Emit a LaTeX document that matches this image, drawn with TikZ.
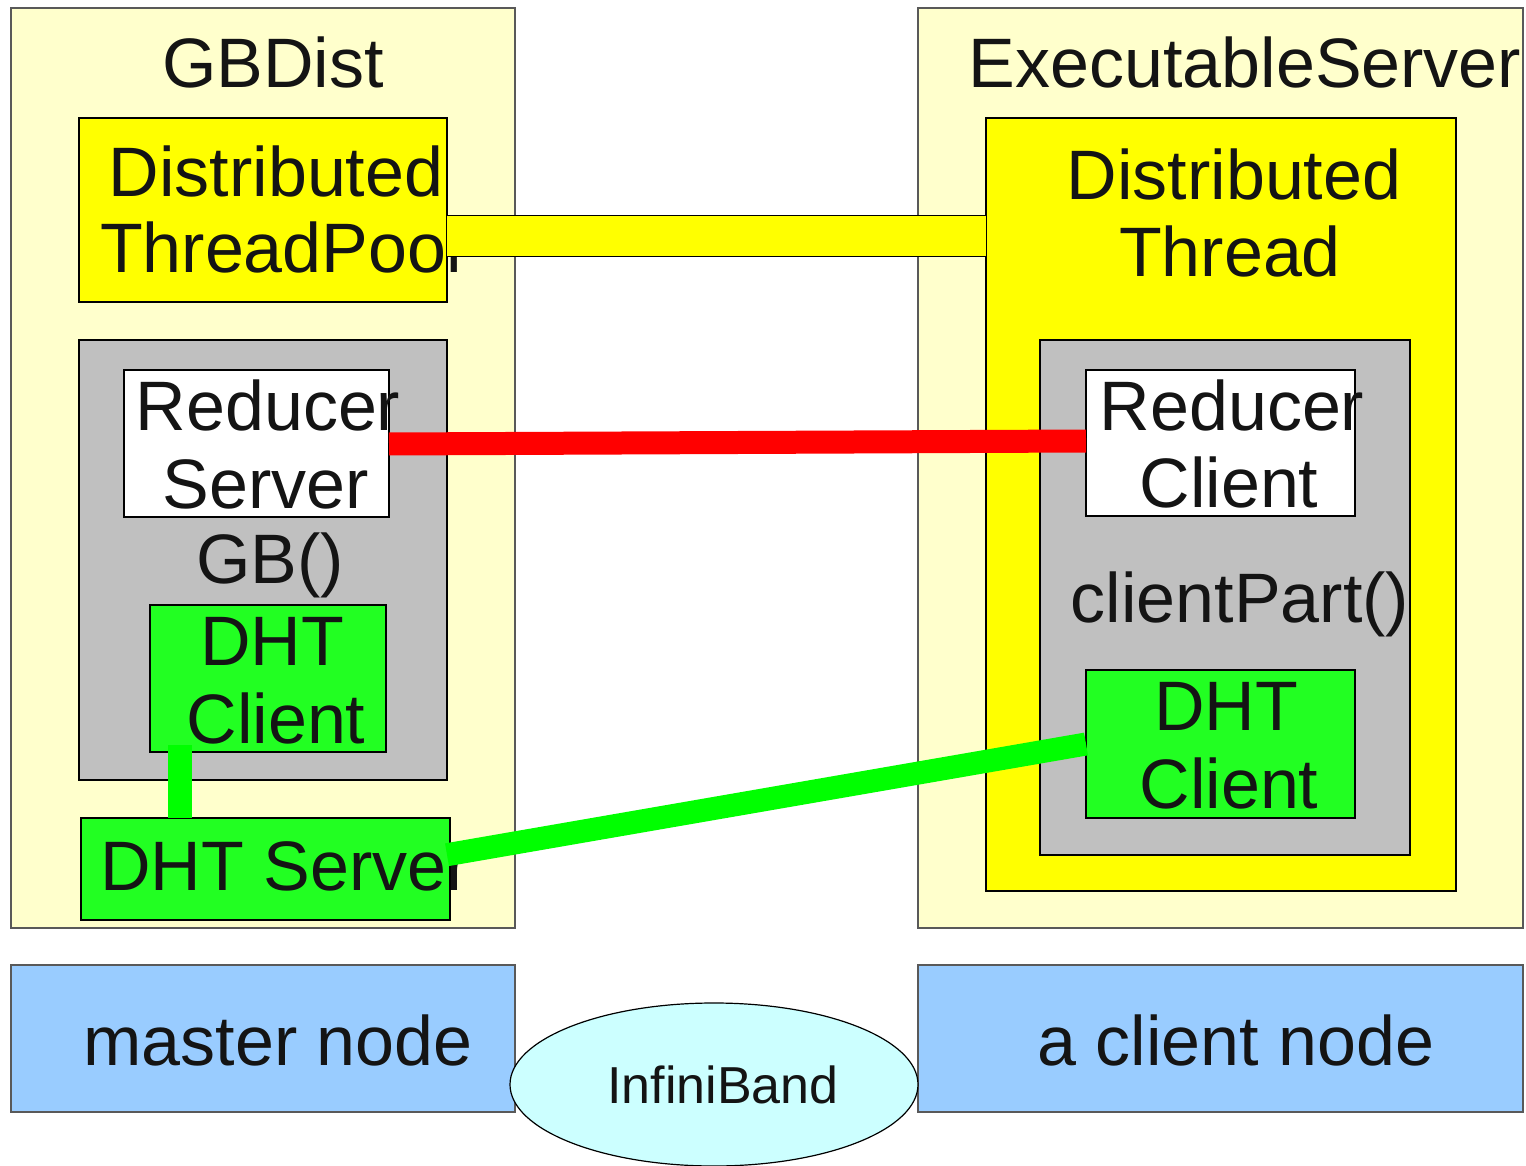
\documentclass[tikz,border=0pt]{standalone}
\usepackage{fontspec}
\setmainfont{Liberation Sans}
\usetikzlibrary{calc,shapes.geometric}
\definecolor{paleyellow}{HTML}{FFFFCC}
\definecolor{boxyellow}{HTML}{FFFF00}
\definecolor{boxgray}{HTML}{C0C0C0}
\definecolor{boxgreen}{HTML}{22FF22}
\definecolor{linkgreen}{HTML}{00FF00}
\definecolor{linkred}{HTML}{FF0000}
\definecolor{hostblue}{HTML}{99CCFF}
\definecolor{netcyan}{HTML}{CCFFFF}
\definecolor{ink}{HTML}{141414}
\tikzset{
  box/.style={rectangle, draw=black, line width=1.3pt, inner sep=0pt, outer sep=0pt, anchor=north west},
  hostbox/.style={box, draw=black!65, fill=paleyellow},
  lbl/.style={anchor=base, inner sep=0pt, outer sep=0pt, text=ink, font=\fontsize{70}{78}\selectfont},
  smalllbl/.style={lbl, font=\fontsize{52}{58}\selectfont},
  link/.style={line width=23pt, line cap=butt},
}
\begin{document}
\begin{tikzpicture}[x=1pt, y=-1pt]
\useasboundingbox (0,0) rectangle (1526,1166);

% processes
\node[hostbox, minimum width=504pt, minimum height=920pt] (gbdist) at (11,8) {};
\node[hostbox, minimum width=605pt, minimum height=920pt] (exsrv) at (918,8) {};

% left side: master process
\node[box, fill=boxyellow, minimum width=368pt, minimum height=184pt] (pool) at (79,118) {};
\node[box, fill=boxgray, minimum width=368pt, minimum height=440pt] (gb) at (79,340) {};
\node[box, fill=white, minimum width=265pt, minimum height=147pt] (rsrv) at (124,370) {};
\node[box, fill=boxgreen, minimum width=236pt, minimum height=147pt] (dhtcl) at (150,605) {};
\node[box, fill=boxgreen, minimum width=369pt, minimum height=102pt] (dhtsrv) at (81,818) {};

% right side: client process
\node[box, fill=boxyellow, minimum width=470pt, minimum height=773pt] (thread) at (986,118) {};
\node[box, fill=boxgray, minimum width=370pt, minimum height=515pt] (cpart) at (1040,340) {};
\node[box, fill=white, minimum width=269pt, minimum height=146pt] (rcli) at (1086,370) {};
\node[box, fill=boxgreen, minimum width=269pt, minimum height=148pt] (dhtcr) at (1086,670) {};

% machines and network
\node[box, draw=black!65, fill=hostblue, minimum width=504pt, minimum height=147pt] (master) at (11,965) {};
\node[box, draw=black!65, fill=hostblue, minimum width=605pt, minimum height=147pt] (client) at (918,965) {};
\node[ellipse, draw=black, line width=1.2pt, fill=netcyan, inner sep=0pt,
      minimum width=408pt, minimum height=163pt] (ib) at (714,1084.5) {};

% labels
\node[lbl] (t1) at (273,88) {GBDist};
\node[lbl] (t2) at (1245,88) {ExecutableServer};
\node[lbl] (t3) at (276,197) {Distributed};
\node[lbl] (t4) at (281,273) {ThreadPool};
\node[lbl] (t5) at (1234,200) {Distributed};
\node[lbl] (t6) at (1230,277) {Thread};
\node[lbl] (t7) at (268,430) {Reducer};
\node[lbl] (t8) at (266,508) {Server};
\node[lbl] (t9) at (270,583) {GB()};
\node[lbl] (t10) at (272,665) {DHT};
\node[lbl] (t11) at (276,743) {Client};
\node[lbl] (t12) at (285,890) {DHT Server};
\node[lbl] (t13) at (1232,430) {Reducer};
\node[lbl] (t14) at (1229,507) {Client};
\node[lbl] (t15) at (1240,622) {clientPart()};
\node[lbl] (t16) at (1226,730) {DHT};
\node[lbl] (t17) at (1229,808) {Client};
\node[lbl] (t18) at (278,1065) {master node};
\node[lbl] (t19) at (1236,1065) {a client node};
\node[smalllbl] (t20) at (723,1103) {InfiniBand};

% connectors
\coordinate (barlevel) at (0,236);
\draw[line width=1pt, double=boxyellow, double distance=40pt, line cap=butt]
  (pool.east |- barlevel) -- (thread.west |- barlevel);
\draw[link, draw=linkred] ($(rsrv.east)+(0,0.5)$) -- ($(rcli.west)+(0,-2)$);
\coordinate (vtop) at ($(dhtcl.south west)+(29.5,-7)$);
\draw[link, line width=24pt, draw=linkgreen] (vtop) -- (vtop |- dhtsrv.north);
\draw[link, draw=linkgreen] ($(dhtsrv.north east)!0.36!(dhtsrv.south east)+(-3,0)$) -- (dhtcr.west);
\end{tikzpicture}
\end{document}
